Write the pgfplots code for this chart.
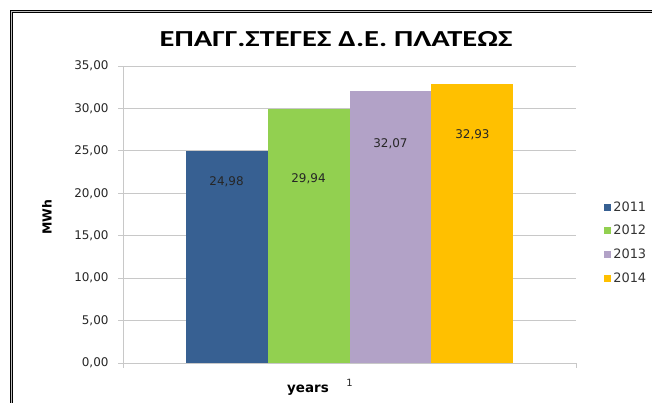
\documentclass[border=0pt]{standalone}
\usepackage{pgfplots}
\pgfplotsset{compat=1.18}
\usepackage{fontspec}
\setmainfont{DejaVu Sans}
\newfontfamily\titlefont{Carlito}
\definecolor{c2011}{HTML}{376092}
\definecolor{c2012}{HTML}{92D050}
\definecolor{c2013}{HTML}{B2A2C7}
\definecolor{c2014}{HTML}{FFC000}
\definecolor{gridc}{HTML}{C8C8C8}
\begin{document}
\begin{tikzpicture}
\useasboundingbox (0bp,0bp) rectangle (652bp,403bp);
\draw[line width=1.4bp, black, double=gray!50, double distance=0.8bp] (11.5bp,-10bp) -- (11.5bp,391.5bp) -- (670bp,391.5bp);
\node[font=\titlefont\bfseries\fontsize{23}{26}\selectfont, xscale=1.33] at (336bp,364bp) {ΕΠΑΓΓ.ΣΤΕΓΕΣ Δ.Ε. ΠΛΑΤΕΩΣ};
\node[font=\bfseries\fontsize{12.5}{14}\selectfont, rotate=90] at (47bp,186bp) {MWh};
\node[font=\bfseries\fontsize{13.5}{15}\selectfont] at (308bp,13bp) {years};
\begin{axis}[
  at={(123bp,40bp)}, anchor=south west,
  scale only axis, width=453bp, height=297bp,
  xmin=0, xmax=2, ymin=0, ymax=35,
  ybar=0pt, bar width=0.362,
  axis lines*=left, axis line style={gridc, line width=0.8pt},
  ytick={0,5,...,35}, ymajorgrids, grid style={gridc, line width=0.8pt},
  xtick={1}, xticklabels={1}, major x tick style={draw=none},
  minor xtick={0,2}, minor tick length=5bp,
  tick align=outside, major tick length=5bp,
  tick style={gridc, line width=0.8pt},
  /pgf/number format/assume math mode=true,
  yticklabel={\pgfmathprintnumber[fixed, fixed zerofill, precision=2, use comma]{\tick}},
  yticklabel style={font=\fontsize{12}{13}\selectfont, text=black!85, xshift=-6bp},
  xticklabel style={font=\fontsize{10}{11}\selectfont, text=black!85, yshift=-8bp},
  legend style={at={(1.062,0.405)}, anchor=west, draw=none, fill=none,
    font=\fontsize{13}{15}\selectfont, row sep=8.5bp, inner sep=0pt,
    cells={anchor=west, text=black!80}},
  legend image code/.code={\fill[#1] (0bp,-3.5bp) rectangle (7bp,3.5bp);},
  clip=false,
]
\addplot[fill=c2011, draw=none] coordinates {(1,24.98)};
\addplot[fill=c2012, draw=none] coordinates {(1,29.94)};
\addplot[fill=c2013, draw=none] coordinates {(1,32.07)};
\addplot[fill=c2014, draw=none] coordinates {(1,32.93)};
\legend{2011,2012,2013,2014}
\node[font=\fontsize{12}{13}\selectfont, text=black!85] at (axis cs:0.457,21.3) {24,98};
\node[font=\fontsize{12}{13}\selectfont, text=black!85] at (axis cs:0.819,21.7) {29,94};
\node[font=\fontsize{12}{13}\selectfont, text=black!85] at (axis cs:1.181,25.8) {32,07};
\node[font=\fontsize{12}{13}\selectfont, text=black!85] at (axis cs:1.543,26.9) {32,93};
\end{axis}
\end{tikzpicture}
\end{document}
